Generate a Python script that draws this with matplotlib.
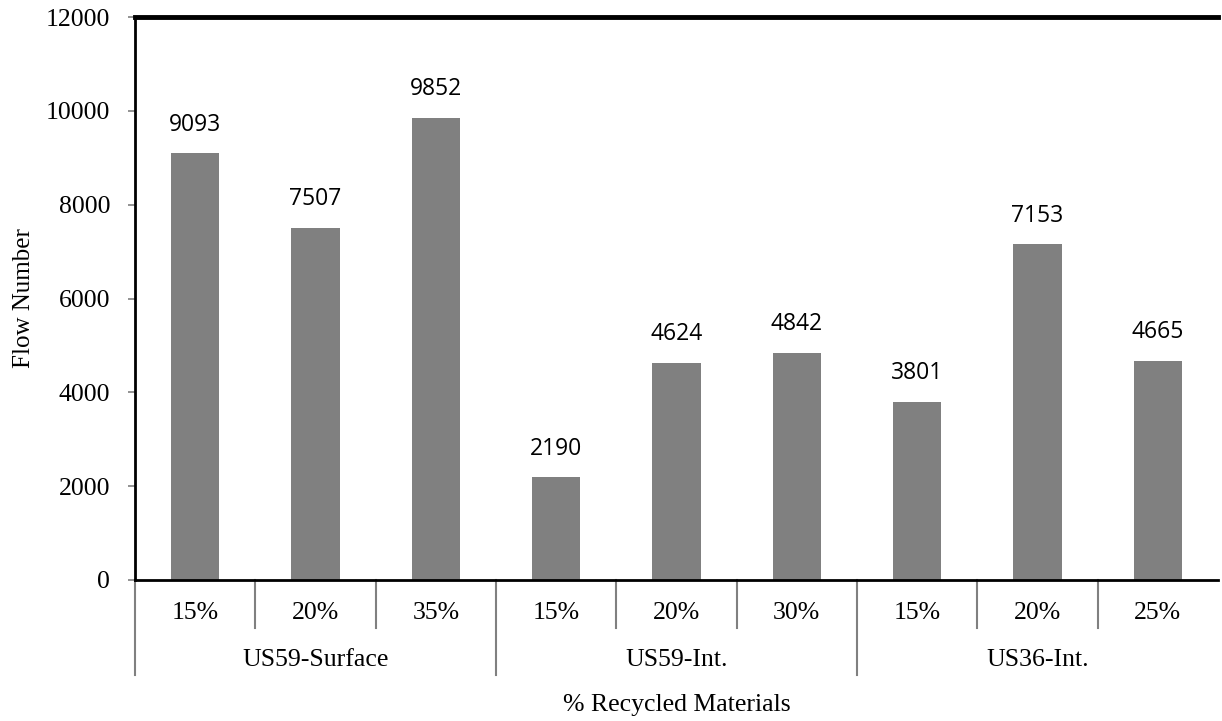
import matplotlib
matplotlib.use("Agg")
import matplotlib.pyplot as plt
import matplotlib.transforms as mtransforms

# Flow number results by mix
groups = ["US59-Surface", "US59-Int.", "US36-Int."]
recycled = ["15%", "20%", "35%", "15%", "20%", "30%", "15%", "20%", "25%"]
group_sizes = [3, 3, 3]
flow_number = [9093, 7507, 9852, 2190, 4624, 4842, 3801, 7153, 4665]
y_ticks = [0, 2000, 4000, 6000, 8000, 10000, 12000]

serif = ["Liberation Serif", "DejaVu Serif"]
label_font = ["Open Sans", "DejaVu Sans"]

fig = plt.figure(figsize=(12.22, 7.21), dpi=100)
ax = fig.add_axes([135 / 1222, 1 - 580 / 721, (1218 - 135) / 1222, (580 - 17) / 721])

x = list(range(len(flow_number)))
ax.bar(x, flow_number, width=0.4, color="#808080", zorder=2)

for xi, v in zip(x, flow_number):
    ax.annotate(f"{v}", (xi, v), xytext=(0, 12), textcoords="offset points",
                ha="center", va="bottom", fontsize=16.5, family=label_font)

ax.set_xlim(-0.5, len(flow_number) - 0.5)
ax.set_ylim(0, 12000)
ax.set_yticks(y_ticks)
ax.set_yticklabels([str(t) for t in y_ticks], fontfamily=serif, fontsize=18.5)
ax.tick_params(axis="y", direction="out", length=5, width=1.2, color="#808080", pad=13)
ax.set_xticks([])

ax.spines["right"].set_visible(False)
ax.spines["top"].set_linewidth(3.5)
ax.spines["left"].set_linewidth(2)
ax.spines["bottom"].set_linewidth(2)
for side in ["top", "left", "bottom"]:
    ax.spines[side].set_color("black")

ax.set_ylabel("Flow Number", fontfamily=serif, fontsize=18, labelpad=8)

# Two-level category axis drawn below the plot
trans = mtransforms.blended_transform_factory(ax.transData, ax.transAxes)
h = 580 - 17
lvl1 = -(628 - 580) / h
lvl2 = -(675 - 580) / h
for xi, lab in zip(x, recycled):
    ax.text(xi, -(613 - 580) / h, lab, transform=trans, ha="center", va="center",
            fontfamily=serif, fontsize=18.5)

boundaries = [-0.5]
start = -0.5
for idx, n in enumerate(group_sizes):
    center = start + n / 2
    ax.text(center, -(660 - 580) / h, groups[idx], transform=trans, ha="center",
            va="center", fontfamily=serif, fontsize=18.5)
    for k in range(1, n):
        ax.plot([start + k, start + k], [0, lvl1], transform=trans, color="#808080",
                lw=1.5, clip_on=False)
    start += n
    boundaries.append(start)

for b in boundaries[:-1]:
    ax.plot([b, b], [0, lvl2], transform=trans, color="#808080", lw=1.5, clip_on=False)

fig.text((135 + 1218) / 2 / 1222, 1 - 705 / 721, "% Recycled Materials", ha="center",
         va="center", fontfamily=serif, fontsize=18.5)

fig.savefig("out.png", dpi=100)
